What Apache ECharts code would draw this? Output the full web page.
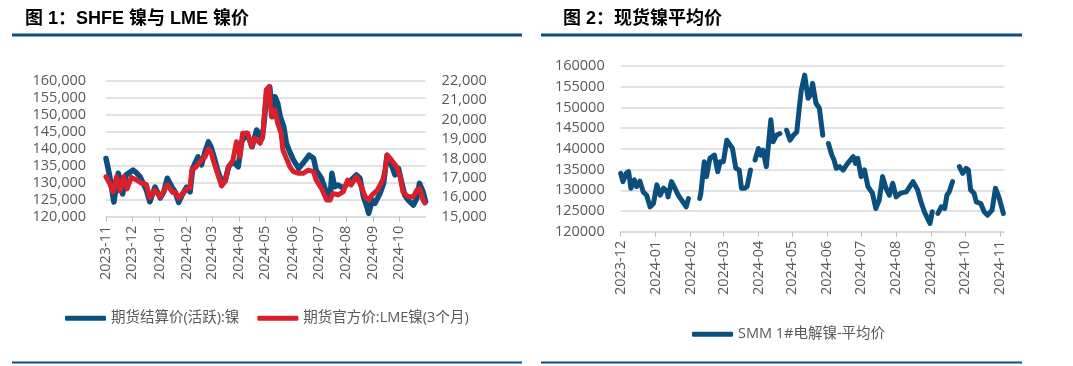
<!DOCTYPE html>
<html>
<head>
<meta charset="utf-8">
<script src="https://cdn.jsdelivr.net/npm/echarts@6/dist/echarts.min.js"></script>
<style>
html,body{margin:0;padding:0;background:#fff;}
#c{width:1073px;height:366px;}
</style>
</head>
<body>
<div id="c"></div>
<script>
// ---------- DATA ----------
const leftMonthTicks = ['2023-11','2023-12','2024-01','2024-02','2024-03','2024-04','2024-05','2024-06','2024-07','2024-08','2024-09','2024-10'];
const rightMonthTicks = ['2023-12','2024-01','2024-02','2024-03','2024-04','2024-05','2024-06','2024-07','2024-08','2024-09','2024-10','2024-11'];

const shfeName = '期货结算价(活跃):镍';
const shfeDates = ['2023-11-01','2023-11-05','2023-11-10','2023-11-15','2023-11-20','2023-11-24','2023-12-02','2023-12-05','2023-12-10','2023-12-17','2023-12-21','2023-12-27','2024-01-02','2024-01-06','2024-01-10','2024-01-16','2024-01-19','2024-01-23','2024-01-27','2024-02-01','2024-02-05','2024-02-08','2024-02-14','2024-02-18','2024-02-22','2024-02-26','2024-02-29','2024-03-03','2024-03-08','2024-03-13','2024-03-16','2024-03-20','2024-03-25','2024-03-31','2024-04-04','2024-04-10','2024-04-16','2024-04-21','2024-04-27','2024-04-29','2024-05-03','2024-05-06','2024-05-09','2024-05-12','2024-05-15','2024-05-18','2024-05-22','2024-05-25','2024-05-28','2024-06-02','2024-06-08','2024-06-13','2024-06-20','2024-06-25','2024-06-28','2024-07-04','2024-07-10','2024-07-14','2024-07-16','2024-07-19','2024-07-23','2024-07-29','2024-08-03','2024-08-07','2024-08-13','2024-08-17','2024-08-21','2024-08-25','2024-08-27','2024-08-31','2024-09-03','2024-09-09','2024-09-13','2024-09-17','2024-09-22','2024-09-26','2024-09-30','2024-10-03','2024-10-07','2024-10-11','2024-10-17','2024-10-21','2024-10-24','2024-10-28','2024-10-31'];
const shfeValues = [137100,132300,124300,132800,126700,132300,133700,133100,131700,127900,124400,128700,125500,127300,131300,128400,127300,124200,126400,128700,127300,134200,137600,135200,139000,142000,140500,137900,133200,129800,130500,134700,136200,134700,142100,144500,140600,145500,143000,146400,157300,158200,149400,155300,153400,149400,146500,141600,139600,136700,134200,135700,138100,137200,133700,131300,126900,125900,132800,128800,129300,128400,129800,130800,132300,131300,125900,122900,121000,124900,123900,126900,129800,138100,135200,132300,134200,130800,126400,124900,123400,125400,129800,127400,124400];

const lmeName = '期货官方价:LME镍(3个月)';
const lmeDates = ['2023-11-01','2023-11-05','2023-11-09','2023-11-13','2023-11-17','2023-11-21','2023-11-25','2023-11-30','2023-12-06','2023-12-11','2023-12-17','2023-12-21','2023-12-27','2024-01-02','2024-01-10','2024-01-16','2024-01-19','2024-01-23','2024-01-28','2024-02-01','2024-02-05','2024-02-07','2024-02-12','2024-02-18','2024-02-22','2024-02-26','2024-02-29','2024-03-02','2024-03-06','2024-03-12','2024-03-16','2024-03-20','2024-03-25','2024-03-29','2024-04-02','2024-04-05','2024-04-11','2024-04-15','2024-04-19','2024-04-25','2024-04-28','2024-05-02','2024-05-05','2024-05-08','2024-05-12','2024-05-15','2024-05-19','2024-05-21','2024-05-25','2024-05-29','2024-06-02','2024-06-08','2024-06-13','2024-06-19','2024-06-25','2024-06-28','2024-07-04','2024-07-10','2024-07-14','2024-07-17','2024-07-23','2024-07-29','2024-08-03','2024-08-07','2024-08-13','2024-08-17','2024-08-23','2024-08-27','2024-08-31','2024-09-06','2024-09-12','2024-09-15','2024-09-17','2024-09-22','2024-09-28','2024-10-02','2024-10-05','2024-10-11','2024-10-17','2024-10-21','2024-10-24','2024-10-28','2024-10-30'];
const lmeValues = [17060,16735,16270,17060,16320,17060,16430,17020,16890,16735,16660,15990,16370,16010,16630,16250,16270,15960,16220,16430,16480,17400,17570,17920,18070,18490,18330,17970,17400,16580,16840,17560,17920,18860,18090,19290,19290,18600,19040,18780,19120,21520,21690,20150,20490,19810,19290,18430,18010,17570,17320,17230,17230,17400,17320,16890,16460,15860,15860,16200,16120,16290,16890,16630,17060,16720,16030,15860,16120,16370,16890,17400,18180,17920,17570,17060,16290,16030,16030,16370,16460,15860,15700];

const smmName = 'SMM 1#电解镍-平均价';
const smmDates = ['2023-12-01','2023-12-03','2023-12-06','2023-12-08','2023-12-10','2023-12-13','2023-12-15','2023-12-18','2023-12-21','2023-12-24','2023-12-27','2023-12-30','2024-01-02','2024-01-05','2024-01-08','2024-01-11','2024-01-12','2024-01-15','2024-01-18','2024-01-21','2024-01-24','2024-01-28','2024-01-30','2024-02-04','2024-02-09','2024-02-10','2024-02-13','2024-02-15','2024-02-18','2024-02-22','2024-02-25','2024-02-27','2024-03-01','2024-03-04','2024-03-07','2024-03-09','2024-03-12','2024-03-15','2024-03-17','2024-03-20','2024-03-22','2024-03-25','2024-03-27','2024-03-29','2024-04-01','2024-04-03','2024-04-05','2024-04-08','2024-04-09','2024-04-12','2024-04-14','2024-04-17','2024-04-20','2024-04-23','2024-04-26','2024-04-29','2024-05-02','2024-05-05','2024-05-07','2024-05-09','2024-05-12','2024-05-15','2024-05-17','2024-05-19','2024-05-22','2024-05-25','2024-05-28','2024-05-30','2024-06-02','2024-06-05','2024-06-07','2024-06-09','2024-06-12','2024-06-15','2024-06-19','2024-06-24','2024-06-26','2024-06-28','2024-07-01','2024-07-04','2024-07-07','2024-07-11','2024-07-14','2024-07-17','2024-07-20','2024-07-23','2024-07-26','2024-07-29','2024-08-01','2024-08-05','2024-08-10','2024-08-16','2024-08-20','2024-08-23','2024-08-26','2024-08-31','2024-09-02','2024-09-04','2024-09-07','2024-09-10','2024-09-13','2024-09-15','2024-09-17','2024-09-20','2024-09-23','2024-09-26','2024-09-29','2024-10-02','2024-10-04','2024-10-06','2024-10-09','2024-10-11','2024-10-15','2024-10-18','2024-10-21','2024-10-25','2024-10-28','2024-10-31','2024-11-04'];
const smmValues = [134100,132100,134100,134500,130500,132500,130900,132200,129600,128800,126000,126800,131300,128800,130500,129600,128400,132100,130500,128800,127600,126000,128000,null,128000,129300,136900,133300,137700,138500,134500,136900,136900,142100,140900,140100,135300,134900,130500,130500,130900,134900,null,137300,140100,138500,139700,135700,138500,147000,141700,143300,143700,null,144500,142100,143300,144100,149400,154200,157800,152200,153000,155800,151000,149800,143300,null,141300,138500,137300,135300,135700,134900,136500,138100,136500,137700,133300,134900,130900,129300,125600,127600,133300,130500,128800,131700,128400,129300,129600,132100,130100,127200,124800,122000,124800,null,124400,126000,125600,128800,129600,132100,null,135700,134100,135300,134900,130100,129300,127200,126800,124800,124000,125200,130500,128400,124400];

// ---------- HELPERS ----------
function monthTs(s){ const p = s.split('-'); return +new Date(+p[0], +p[1]-1, 1); }
function dayTs(s){ const p = s.split('-'); return +new Date(+p[0], +p[1]-1, +p[2]); }
function pairs(dates, vals){ return dates.map((d,i)=>[dayTs(d), vals[i]]); }
function fmtMonth(v){ const d = new Date(v); return d.getFullYear() + '-' + String(d.getMonth()+1).padStart(2,'0'); }

const BLUE = '#0B4F7F';
const RED = '#D9202B';
const GRAY_TXT = '#595959';
const GRID_C = '#D9D9D9';
const FONT = '"Open Sans","Noto Sans CJK SC",sans-serif';
const TFONT = '"Liberation Sans","Noto Sans CJK SC",sans-serif';

function xAxisCfg(gridIndex, min, max, ticks){
  const vals = ticks.map(monthTs);
  return {
    type:'value', gridIndex, min: dayTs(min), max: dayTs(max), scale:true,
    axisLine:{show:true, onZero:false, lineStyle:{color:GRID_C, width:1.5}},
    axisTick:{show:true, length:5, lineStyle:{color:'#BFBFBF', width:1}, customValues: vals},
    axisLabel:{show:true, rotate:90, margin:9, color:GRAY_TXT, fontSize:14.5, fontFamily:FONT,
      customValues: vals, formatter: fmtMonth},
    splitLine:{show:false}
  };
}

const chart = echarts.init(document.getElementById('c'), null, {renderer:'canvas'});
chart.setOption({
  animation:false,
  backgroundColor:'#fff',
  grid:[
    {left:106, top:80.7, width:319.6, height:136},
    {left:620.7, top:66, width:383.8, height:165.7}
  ],
  xAxis:[
    xAxisCfg(0,'2023-11-01','2024-10-31',leftMonthTicks),
    xAxisCfg(1,'2023-12-01','2024-11-05',rightMonthTicks)
  ],
  yAxis:[
    {type:'value', gridIndex:0, min:120000, max:160000, interval:5000, position:'left',
     axisLine:{show:false}, axisTick:{show:false},
     axisLabel:{margin:20, color:GRAY_TXT, fontSize:14.5, fontFamily:FONT,
       formatter:v=>v.toLocaleString('en-US')},
     splitLine:{show:true, lineStyle:{color:GRID_C, width:1.5}}},
    {type:'value', gridIndex:0, min:15000, max:22000, interval:1000, position:'right',
     axisLine:{show:false}, axisTick:{show:false},
     axisLabel:{margin:16, color:GRAY_TXT, fontSize:14.5, fontFamily:FONT,
       formatter:v=>v.toLocaleString('en-US')},
     splitLine:{show:false}},
    {type:'value', gridIndex:1, min:120000, max:160000, interval:5000,
     axisLine:{show:false}, axisTick:{show:false},
     axisLabel:{margin:16, color:GRAY_TXT, fontSize:14.5, fontFamily:FONT,
       formatter:v=>String(v)},
     splitLine:{show:true, lineStyle:{color:GRID_C, width:1.5}}}
  ],
  legend:[
    {left:60, top:306, itemWidth:41, itemHeight:5, itemGap:18, icon:'roundRect',
     textStyle:{color:GRAY_TXT, fontSize:14.5, fontFamily:FONT},
     data:[shfeName, lmeName]},
    {left:687, top:322, itemWidth:41, itemHeight:5, icon:'roundRect',
     textStyle:{color:GRAY_TXT, fontSize:14.5, fontFamily:FONT},
     data:[smmName]}
  ],
  series:[
    {name:shfeName, type:'line', xAxisIndex:0, yAxisIndex:0, data:pairs(shfeDates, shfeValues),
     showSymbol:false, symbol:'none', color:BLUE, z:2,
     lineStyle:{color:BLUE, width:5.5, cap:'round', join:'round'}},
    {name:lmeName, type:'line', xAxisIndex:0, yAxisIndex:1, data:pairs(lmeDates, lmeValues),
     showSymbol:false, symbol:'none', color:RED, z:3,
     lineStyle:{color:RED, width:5, cap:'round', join:'round'}},
    {name:smmName, type:'line', xAxisIndex:1, yAxisIndex:2, data:pairs(smmDates, smmValues),
     showSymbol:false, symbol:'none', color:BLUE, connectNulls:false,
     lineStyle:{color:BLUE, width:5, cap:'round', join:'round'}}
  ],
  graphic:[
    {type:'text', left:25, top:10, style:{text:'图 1：SHFE 镍与 LME 镍价', font:'bold 18px '+TFONT, fill:'#000'}},
    {type:'text', left:563, top:10, style:{text:'图 2：现货镍平均价', font:'bold 18px '+TFONT, fill:'#000'}},
    {type:'rect', shape:{x:12, y:33.5, width:510, height:3}, style:{fill:BLUE}},
    {type:'rect', shape:{x:541, y:33.5, width:481, height:3}, style:{fill:BLUE}},
    {type:'rect', shape:{x:12, y:361.5, width:510, height:2}, style:{fill:BLUE}},
    {type:'rect', shape:{x:541, y:361.5, width:481, height:2}, style:{fill:BLUE}}
  ]
});
</script>
</body>
</html>
